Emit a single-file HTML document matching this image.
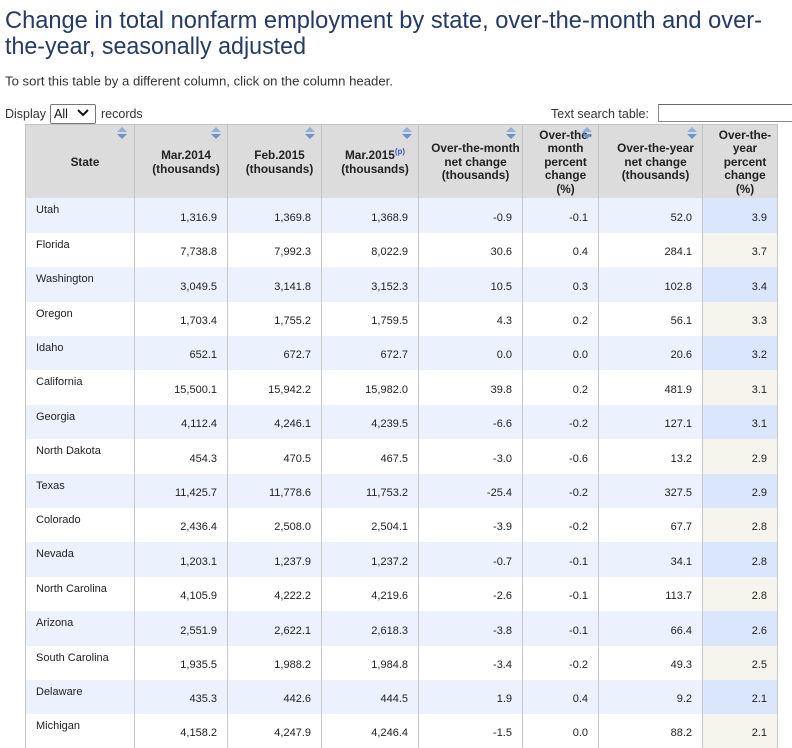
<!DOCTYPE html>
<html><head><meta charset="utf-8"><style>
html,body{margin:0;padding:0;background:#fff;overflow:hidden;width:792px;height:748px;position:relative;font-family:"Liberation Sans",Arial,sans-serif;}
.abs{position:absolute;}
.lbl{position:absolute;font-size:12.5px;color:#333;white-space:nowrap;line-height:15px;}
table{position:absolute;left:25px;top:124px;border-collapse:collapse;table-layout:fixed;width:753px;}
th{background:#dcdcdc;border:1px solid #c4c4c4;border-bottom:none;font:bold 11.8px/13.5px "Liberation Sans",Arial,sans-serif;color:#222;text-align:center;vertical-align:middle;padding:2px 2px 0 12px;height:71px;white-space:nowrap;}
td{border-left:1px solid #c8c8c8;border-right:1px solid #c8c8c8;font:11px/13px "Liberation Sans",Arial,sans-serif;color:#222;text-align:right;vertical-align:middle;padding:5px 10px 0 0;white-space:nowrap;}
td.s{text-align:left;vertical-align:top;padding:6px 0 0 10px;}
tr.o td{background:#ebf2fd;}
tr.o td.l{background:#dae6fb;}
tr.e td{background:#fff;}
tr.e td.l{background:#f5f4ed;}
sup{font-size:8px;color:#3a5bb5;font-weight:bold;vertical-align:5px;line-height:0;}
.ic{position:absolute;width:11px;height:12px;}
.ic .u{position:absolute;left:0;top:0;width:0;height:0;border-left:5.5px solid transparent;border-right:5.5px solid transparent;border-bottom:5px solid #8fb0d8;}
.ic .d{position:absolute;left:0;top:7px;width:0;height:0;border-left:5.5px solid transparent;border-right:5.5px solid transparent;border-top:5px solid #6a94c8;}
</style></head><body>
<svg class="abs" style="left:0;top:0" width="792" height="100" xmlns="http://www.w3.org/2000/svg">
<text x="5" y="28" font-family="Liberation Sans, Arial, sans-serif" font-size="24" fill="#233a6b" textLength="757" lengthAdjust="spacingAndGlyphs">Change in total nonfarm employment by state, over-the-month and over-</text>
<text x="5" y="54" font-family="Liberation Sans, Arial, sans-serif" font-size="24" fill="#233a6b" textLength="301" lengthAdjust="spacingAndGlyphs">the-year, seasonally adjusted</text>
<text x="5" y="85.5" font-family="Liberation Sans, Arial, sans-serif" font-size="12.5" fill="#333" textLength="388" lengthAdjust="spacingAndGlyphs">To sort this table by a different column, click on the column header.</text>
</svg>
<div class="lbl" style="left:5px;top:107px;">Display</div>
<div class="abs" style="left:50px;top:104px;width:44px;height:18px;border:1px solid #767676;border-radius:2px;background:#fff;"></div>
<div class="lbl" style="left:54px;top:107px;color:#111;">All</div>
<svg class="abs" style="left:76px;top:107px" width="16" height="12"><polyline points="2,3 7,8 12,3" fill="none" stroke="#111" stroke-width="2"/></svg>
<div class="lbl" style="left:101px;top:107px;">records</div>
<div class="lbl" style="left:551px;top:107px;">Text search table:</div>
<div class="abs" style="left:658px;top:104px;width:140px;height:16px;border:1px solid #8a8a8a;border-top-color:#666;background:#fff;"></div>

<table>
<colgroup><col style="width:109px"><col style="width:93px"><col style="width:94px"><col style="width:97px"><col style="width:104px"><col style="width:76px"><col style="width:104px"><col style="width:75px"></colgroup>
<tr><th>State</th><th>Mar.2014<br>(thousands)</th><th>Feb.2015<br>(thousands)</th><th>Mar.2015<sup>(p)</sup><br>(thousands)</th><th>Over-the-month<br>net change<br>(thousands)</th><th>Over-the-<br>month<br>percent<br>change<br>(%)</th><th>Over-the-year<br>net change<br>(thousands)</th><th>Over-the-<br>year<br>percent<br>change<br>(%)</th></tr>
<tr class="o" style="height:35px"><td class="s">Utah</td><td>1,316.9</td><td>1,369.8</td><td>1,368.9</td><td>-0.9</td><td>-0.1</td><td>52.0</td><td class="l">3.9</td></tr>
<tr class="e" style="height:34px"><td class="s">Florida</td><td>7,738.8</td><td>7,992.3</td><td>8,022.9</td><td>30.6</td><td>0.4</td><td>284.1</td><td class="l">3.7</td></tr>
<tr class="o" style="height:35px"><td class="s">Washington</td><td>3,049.5</td><td>3,141.8</td><td>3,152.3</td><td>10.5</td><td>0.3</td><td>102.8</td><td class="l">3.4</td></tr>
<tr class="e" style="height:34px"><td class="s">Oregon</td><td>1,703.4</td><td>1,755.2</td><td>1,759.5</td><td>4.3</td><td>0.2</td><td>56.1</td><td class="l">3.3</td></tr>
<tr class="o" style="height:34px"><td class="s">Idaho</td><td>652.1</td><td>672.7</td><td>672.7</td><td>0.0</td><td>0.0</td><td>20.6</td><td class="l">3.2</td></tr>
<tr class="e" style="height:35px"><td class="s">California</td><td>15,500.1</td><td>15,942.2</td><td>15,982.0</td><td>39.8</td><td>0.2</td><td>481.9</td><td class="l">3.1</td></tr>
<tr class="o" style="height:34px"><td class="s">Georgia</td><td>4,112.4</td><td>4,246.1</td><td>4,239.5</td><td>-6.6</td><td>-0.2</td><td>127.1</td><td class="l">3.1</td></tr>
<tr class="e" style="height:35px"><td class="s">North Dakota</td><td>454.3</td><td>470.5</td><td>467.5</td><td>-3.0</td><td>-0.6</td><td>13.2</td><td class="l">2.9</td></tr>
<tr class="o" style="height:34px"><td class="s">Texas</td><td>11,425.7</td><td>11,778.6</td><td>11,753.2</td><td>-25.4</td><td>-0.2</td><td>327.5</td><td class="l">2.9</td></tr>
<tr class="e" style="height:34px"><td class="s">Colorado</td><td>2,436.4</td><td>2,508.0</td><td>2,504.1</td><td>-3.9</td><td>-0.2</td><td>67.7</td><td class="l">2.8</td></tr>
<tr class="o" style="height:35px"><td class="s">Nevada</td><td>1,203.1</td><td>1,237.9</td><td>1,237.2</td><td>-0.7</td><td>-0.1</td><td>34.1</td><td class="l">2.8</td></tr>
<tr class="e" style="height:34px"><td class="s">North Carolina</td><td>4,105.9</td><td>4,222.2</td><td>4,219.6</td><td>-2.6</td><td>-0.1</td><td>113.7</td><td class="l">2.8</td></tr>
<tr class="o" style="height:35px"><td class="s">Arizona</td><td>2,551.9</td><td>2,622.1</td><td>2,618.3</td><td>-3.8</td><td>-0.1</td><td>66.4</td><td class="l">2.6</td></tr>
<tr class="e" style="height:34px"><td class="s">South Carolina</td><td>1,935.5</td><td>1,988.2</td><td>1,984.8</td><td>-3.4</td><td>-0.2</td><td>49.3</td><td class="l">2.5</td></tr>
<tr class="o" style="height:34px"><td class="s">Delaware</td><td>435.3</td><td>442.6</td><td>444.5</td><td>1.9</td><td>0.4</td><td>9.2</td><td class="l">2.1</td></tr>
<tr class="e" style="height:34px"><td class="s">Michigan</td><td>4,158.2</td><td>4,247.9</td><td>4,246.4</td><td>-1.5</td><td>0.0</td><td>88.2</td><td class="l">2.1</td></tr>
</table>

<div class="ic" style="left:117px;top:127px"><div class="u"></div><div class="d"></div></div>
<div class="ic" style="left:211px;top:127px"><div class="u"></div><div class="d"></div></div>
<div class="ic" style="left:305px;top:127px"><div class="u"></div><div class="d"></div></div>
<div class="ic" style="left:402px;top:127px"><div class="u"></div><div class="d"></div></div>
<div class="ic" style="left:506px;top:127px"><div class="u"></div><div class="d"></div></div>
<div class="ic" style="left:582px;top:127px"><div class="u"></div><div class="d"></div></div>
<div class="ic" style="left:687px;top:127px"><div class="u"></div><div class="d"></div></div>
</body></html>
